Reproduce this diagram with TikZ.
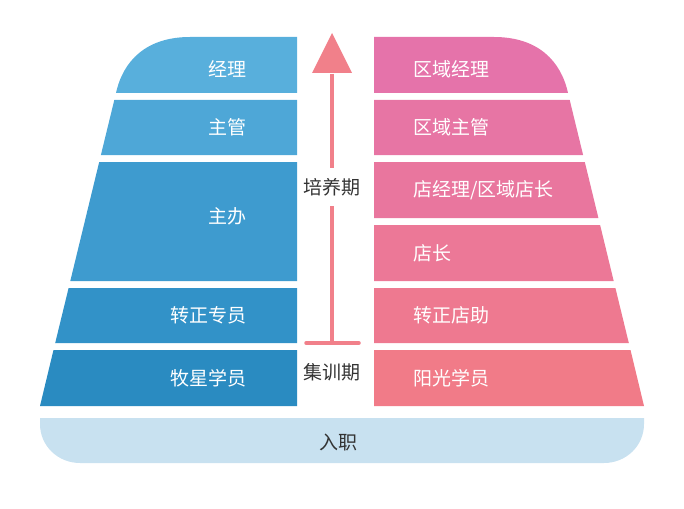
\documentclass[tikz,border=0pt]{standalone}
\usepackage{fontspec}
\newfontfamily\cjk{Noto Sans CJK SC}
\usetikzlibrary{positioning}
\definecolor{blueA}{RGB}{88,175,220}
\definecolor{blueB}{RGB}{78,167,215}
\definecolor{blueC}{RGB}{62,155,207}
\definecolor{blueD}{RGB}{50,146,200}
\definecolor{blueE}{RGB}{42,139,193}
\definecolor{pinkA}{RGB}{229,115,170}
\definecolor{pinkB}{RGB}{231,117,164}
\definecolor{pinkC}{RGB}{233,118,158}
\definecolor{pinkD}{RGB}{236,120,151}
\definecolor{pinkE}{RGB}{238,121,144}
\definecolor{pinkF}{RGB}{241,123,136}
\definecolor{basebar}{RGB}{200,225,240}
\definecolor{arrowred}{RGB}{241,128,138}
\definecolor{darktxt}{RGB}{51,51,51}
\tikzset{
  lvl/.style={font=\cjk\fontsize{19}{22}\selectfont, text=white, inner sep=0pt},
  lvlL/.style={lvl, anchor=east},
  lvlR/.style={lvl, anchor=west},
  phase/.style={font=\cjk\fontsize{19}{22}\selectfont, text=darktxt, inner xsep=0pt, inner ysep=10pt},
  track/.style={arrowred, line width=3.5pt},
}

\begin{document}
\begin{tikzpicture}[x=1pt,y=-1pt]
  \useasboundingbox (0,0) rectangle (684,508);
%---------------- left pyramid ----------------
  \fill[blueA] (297,37) -- (190,37) .. controls (146,37) and (123,61) .. (116,93) -- (297,93) -- cycle;
  \fill[blueB] (297,100) -- (114.3,100) -- (100.9,155) -- (297,155) -- cycle;
  \fill[blueC] (297,162) -- (99.2,162) -- (70.3,281) -- (297,281) -- cycle;
  \fill[blueD] (297,288) -- (68.6,288) -- (55.2,343) -- (297,343) -- cycle;
  \fill[blueE] (297,350) -- (53.5,350) -- (40,406) -- (297,406) -- cycle;
  \node[lvlL] (jingli)  at (247,69)    {经理};
  \node[lvlL] (zhuguan) at (247,127.5) {主管};
  \node[lvlL] (zhuban)  at (247,216)   {主办};
  \node[lvlL] (zhuanzheng) at (247,315.5) {转正专员};
  \node[lvlL] (muxing)  at (247,378)   {牧星学员};
%---------------- right pyramid ----------------
  \fill[pinkA] (374,37) -- (494,37) .. controls (538,37) and (561,61) .. (568,93) -- (374,93) -- cycle;
  \fill[pinkB] (374,100) -- (569.7,100) -- (583.1,155) -- (374,155) -- cycle;
  \fill[pinkC] (374,162) -- (584.8,162) -- (598.4,218) -- (374,218) -- cycle;
  \fill[pinkD] (374,225) -- (600.1,225) -- (613.7,281) -- (374,281) -- cycle;
  \fill[pinkE] (374,288) -- (615.4,288) -- (628.8,343) -- (374,343) -- cycle;
  \fill[pinkF] (374,350) -- (630.5,350) -- (644,406) -- (374,406) -- cycle;
  \node[lvlR] (qyjingli)  at (413,69)    {区域经理};
  \node[lvlR] (qyzhuguan) at (413,127.5) {区域主管};
  \node[lvlR] (dianjingli) at (413,190)  {店经理/区域店长};
  \node[lvlR] (dianzhang) at (413,253)   {店长};
  \node[lvlR] (dianzhu)   at (413,315.5) {转正店助};
  \node[lvlR] (yangguang) at (413,378)   {阳光学员};
%---------------- entry bar ----------------
  \fill[basebar] (40,418) -- (40,424) .. controls (40,446) and (58,463) .. (80,463)
    -- (604,463) .. controls (626,463) and (644,446) .. (644,424) -- (644,418) -- cycle;
  \node[font=\cjk\fontsize{19}{22}\selectfont, text=darktxt] (ruzhi) at (338,442) {入职};
%---------------- growth arrow ----------------
  \node[phase] (peiyang) at (332,187) {培养期};
  \node[phase] (jixun)   at (332,372) {集训期};
  \coordinate (arrtip)  at (332,33);
  \coordinate (arrbase) at (332,74);
  \coordinate (barmid)  at (332,343);
  \fill[arrowred] (arrtip) -- ([xshift=-20pt,yshift=1pt]arrbase) -- ([xshift=20pt,yshift=1pt]arrbase) -- cycle;
  \draw[track] (arrbase) -- (peiyang.north);
  \draw[track] (peiyang.south) -- (barmid);
  \draw[track, line cap=round] ([xshift=-26pt]barmid) -- ([xshift=27pt]barmid);
\end{tikzpicture}
\end{document}
